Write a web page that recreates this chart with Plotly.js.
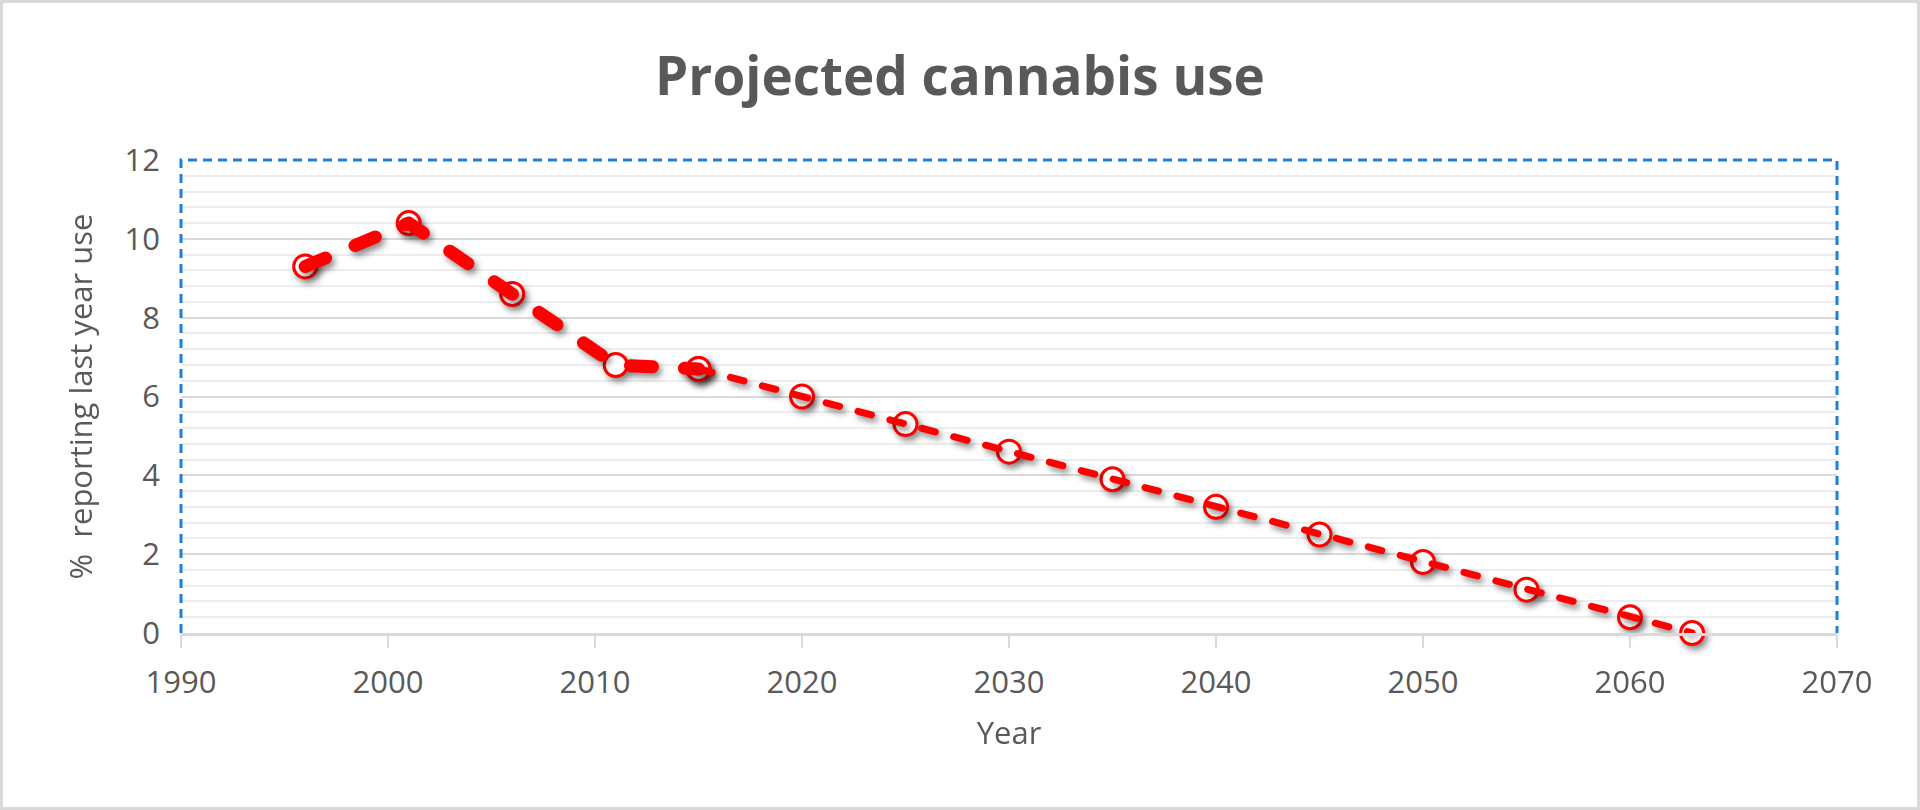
<!DOCTYPE html>
<html>
<head>
<meta charset="utf-8">
<script src="https://cdn.plot.ly/plotly-3.0.1.min.js"></script>
<style>
  html, body { margin: 0; padding: 0; background: #ffffff; }
  #wrap { position: relative; width: 1920px; height: 810px; }
  #chart { width: 1920px; height: 810px; }
  #frame { position: absolute; left: 0; top: 0; width: 1920px; height: 810px; box-sizing: border-box; border: 3px solid #d9d9d9; pointer-events: none; }
  .scatterlayer .trace { filter: drop-shadow(3px 4px 3px rgba(0,0,0,0.45)); }
  .scatterlayer path.js-line { stroke-linecap: round; stroke-linejoin: round; }
</style>
</head>
<body>
<div id="wrap">
  <div id="chart"></div>
  <div id="frame"></div>
</div>
<script>
// Observed (historical) series
const histYears = [1996, 2001, 2006, 2011, 2015];
const histValues = [9.3, 10.4, 8.6, 6.8, 6.7];
// Projected series
const projYears = [2015, 2020, 2025, 2030, 2035, 2040, 2045, 2050, 2055, 2060, 2063];
const projValues = [6.7, 6.0, 5.3, 4.6, 3.9, 3.2, 2.5, 1.8, 1.1, 0.4, 0.0];

const chartTitle = 'Projected cannabis use';
const xTitle = 'Year';
const yTitle = '%\u00a0 reporting last year use';
const xTickVals = [1990, 2000, 2010, 2020, 2030, 2040, 2050, 2060, 2070];
const yTickVals = [0, 2, 4, 6, 8, 10, 12];

const red = '#ff0000';
const markerStyle = { symbol: 'circle', size: 23, color: '#ffffff', line: { color: red, width: 3 } };

const traces = [
  { x: histYears, y: histValues, mode: 'markers', type: 'scatter', marker: markerStyle, cliponaxis: false, hoverinfo: 'x+y', showlegend: false },
  { x: projYears, y: projValues, mode: 'markers', type: 'scatter', marker: markerStyle, cliponaxis: false, hoverinfo: 'x+y', showlegend: false },
  { x: histYears, y: histValues, mode: 'lines', type: 'scatter', line: { color: red, width: 13, dash: '22px,32px' }, cliponaxis: false, hoverinfo: 'skip', showlegend: false },
  { x: projYears, y: projValues, mode: 'lines', type: 'scatter', line: { color: red, width: 7, dash: '14px,19px' }, cliponaxis: false, hoverinfo: 'skip', showlegend: false }
];

const fontFam = '"Open Sans", "DejaVu Sans", sans-serif';
const gray = '#595959';

const layout = {
  width: 1920,
  height: 810,
  paper_bgcolor: '#ffffff',
  plot_bgcolor: '#ffffff',
  margin: { l: 181, r: 83, t: 160, b: 177 },
  showlegend: false,
  font: { family: fontFam, color: gray },
  title: {
    text: '<b>' + chartTitle + '</b>',
    font: { family: fontFam, size: 53, color: gray },
    x: 0.5, xanchor: 'center',
    y: 1 - 76 / 810, yanchor: 'middle', yref: 'container'
  },
  xaxis: {
    range: [1990, 2070],
    tickmode: 'array',
    tickvals: xTickVals,
    ticktext: xTickVals.map(String),
    showgrid: false,
    zeroline: false,
    showline: true,
    linecolor: '#d9d9d9',
    linewidth: 3,
    ticks: 'outside',
    ticklen: 12,
    tickwidth: 2,
    tickcolor: '#d9d9d9',
    ticklabelstandoff: 8,
    tickfont: { family: fontFam, size: 31, color: gray },
    title: { text: xTitle, font: { family: fontFam, size: 31, color: gray }, standoff: 22 }
  },
  yaxis: {
    range: [0, 12],
    tickmode: 'array',
    tickvals: yTickVals,
    ticktext: yTickVals.map(String),
    showgrid: true,
    gridcolor: '#d9d9d9',
    gridwidth: 2,
    zeroline: false,
    showline: false,
    ticks: '',
    ticklabelstandoff: 20,
    tickfont: { family: fontFam, size: 31, color: gray },
    minor: { dtick: 0.4, tick0: 0, showgrid: true, gridcolor: '#ededed', gridwidth: 2, ticks: '' },
    title: { text: yTitle, font: { family: fontFam, size: 31, color: gray }, standoff: 22 }
  },
  shapes: [
    {
      type: 'path', xref: 'paper', yref: 'paper',
      path: 'M0,0 L0,1 L1,1 L1,0',
      line: { color: '#1f80d8', width: 3, dash: '9px,6px' },
      layer: 'above'
    }
  ]
};

Plotly.newPlot('chart', traces, layout, { staticPlot: true, displayModeBar: false });
</script>
</body>
</html>
